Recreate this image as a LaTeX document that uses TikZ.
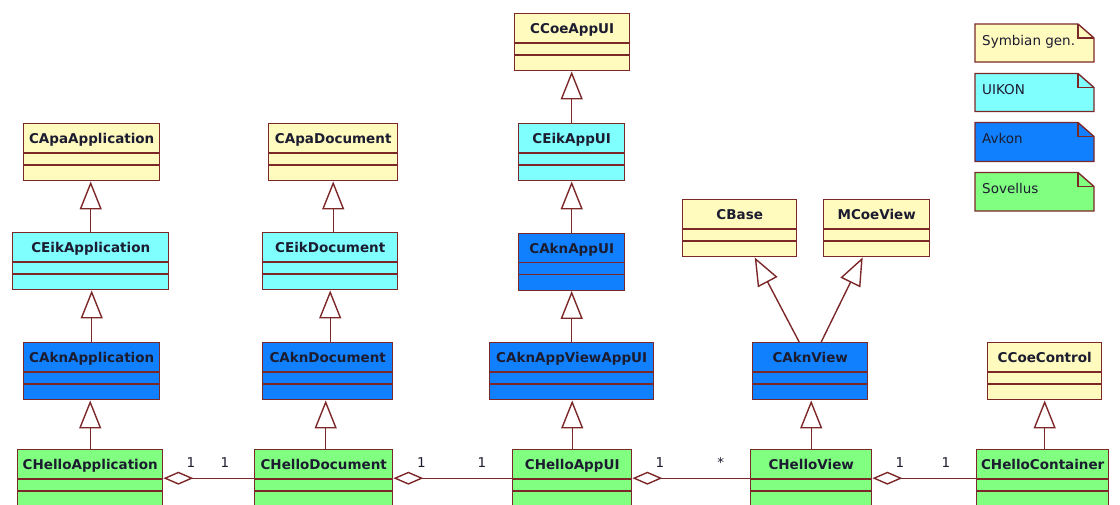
\documentclass[tikz,border=0pt]{standalone}
\usepackage{fontspec}
\setmainfont{DejaVu Sans}
\usetikzlibrary{arrows.meta,calc}
\definecolor{bord}{RGB}{125,40,40}
\definecolor{yel}{RGB}{255,250,190}
\definecolor{cya}{RGB}{128,255,255}
\definecolor{blu}{RGB}{16,128,255}
\definecolor{grn}{RGB}{128,255,128}
\definecolor{txt}{RGB}{28,28,48}
\tikzset{
  clsbox/.style={draw=bord, line width=1.4pt, rectangle, inner sep=0pt, minimum height=57pt},
  clsname/.style={inner sep=0pt, text=txt, font=\fontsize{13.5}{16}\selectfont\bfseries},
  sepline/.style={draw=bord, line width=1.4pt},
  inherit/.style={draw=bord, line width=1.4pt, -{Triangle[open, length=28pt, width=22pt]}},
  assoc/.style={draw=bord, line width=1.4pt, {Diamond[open, length=30pt, width=13pt]}-},
  mult/.style={inner sep=0pt, text=txt, font=\fontsize{13.5}{15}\selectfont},
  notebox/.style={draw=bord, line width=1.4pt},
  notetext/.style={inner sep=0pt, text=txt, font=\fontsize{13.5}{15}\selectfont},
}
\newcommand{\umlclass}[6]{%
  \node[clsbox, fill=#5, minimum width=#4pt, anchor=north west] (#1) at (#2,#3) {};
  \node[clsname, anchor=base] (#1-n) at ($(#1.north)+(0,20.5)$) {#6};
  \draw[sepline] ($(#1.north west)+(0,30)$) -- ($(#1.north east)+(0,30)$);
  \draw[sepline] ($(#1.north west)+(0,42)$) -- ($(#1.north east)+(0,42)$);
}
\newcommand{\umlnote}[5]{%
  \draw[notebox, fill=#4] (975,#2) -- (1078,#2) -- (1094,{#2+14}) -- (1094,#3) -- (975,#3) -- cycle;
  \draw[notebox] (1078,#2) -- (1078,{#2+14}) -- (1094,{#2+14});
  \node[notetext, anchor=base west] (#1) at (982,{#2+21}) {#5};
}
\begin{document}
\begin{tikzpicture}[x=1pt, y=-1pt]
\clip (0,0) rectangle (1120,504);
\fill[white] (0,0) rectangle (1120,504);
% classes
\umlclass{ccoeappui}{514}{13}{115}{yel}{CCoeAppUI}
\umlclass{capaapp}{23}{123}{136}{yel}{CApaApplication}
\umlclass{capadoc}{268}{123}{129}{yel}{CApaDocument}
\umlclass{ceikappui}{518}{123}{106}{cya}{CEikAppUI}
\umlclass{cbase}{682}{199}{114}{yel}{CBase}
\umlclass{mcoeview}{823}{199}{106}{yel}{MCoeView}
\umlclass{ceikapp}{12}{232}{156}{cya}{CEikApplication}
\umlclass{ceikdoc}{262}{232}{135}{cya}{CEikDocument}
\umlclass{caknappui}{518}{232.5}{106}{blu}{CAknAppUI}
\umlclass{caknapp}{23}{342}{136}{blu}{CAknApplication}
\umlclass{cakndoc}{262}{342}{130}{blu}{CAknDocument}
\umlclass{caknavappui}{489}{342}{164}{blu}{CAknAppViewAppUI}
\umlclass{caknview}{752}{342}{115}{blu}{CAknView}
\umlclass{ccoecontrol}{987}{342}{114}{yel}{CCoeControl}
\umlclass{happ}{17}{449}{145}{grn}{CHelloApplication}
\umlclass{hdoc}{254}{449}{138}{grn}{CHelloDocument}
\umlclass{happui}{512}{449}{119}{grn}{CHelloAppUI}
\umlclass{hview}{750}{449}{121}{grn}{CHelloView}
\umlclass{hcont}{976}{449}{132}{grn}{CHelloContainer}
% inheritance
\draw[inherit] (ceikapp.north) -- (ceikapp.north |- capaapp.south);
\draw[inherit] (caknapp.north) -- (caknapp.north |- ceikapp.south);
\draw[inherit] (happ.north) -- (happ.north |- caknapp.south);
\draw[inherit] (capadoc.south |- ceikdoc.north) -- (capadoc.south);
\draw[inherit] (ceikdoc.south |- cakndoc.north) -- (ceikdoc.south);
\draw[inherit] ([xshift=-2pt]cakndoc.south |- hdoc.north) -- ([xshift=-2pt]cakndoc.south);
\draw[inherit] (ceikappui.north) -- (ceikappui.north |- ccoeappui.south);
\draw[inherit] (caknappui.north) -- (caknappui.north |- ceikappui.south);
\draw[inherit] (caknavappui.north) -- (caknavappui.north |- caknappui.south);
\draw[inherit] (happui.north) -- (happui.north |- caknavappui.south);
\draw[inherit] (hview.north) -- (hview.north |- caknview.south);
\draw[inherit] (ccoecontrol.south |- hcont.north) -- (ccoecontrol.south);
\draw[inherit] ([xshift=-11pt]caknview.north) -- ([xshift=15pt]cbase.south);
\draw[inherit] ([xshift=11pt]caknview.north) -- ([xshift=-14pt]mcoeview.south);
% associations
\draw[assoc] (happ.east) -- (hdoc.west);
\draw[assoc] (hdoc.east) -- (happui.west);
\draw[assoc] (happui.east) -- (hview.west);
\draw[assoc] (hview.east) -- (hcont.west);
\node[mult] (m1) at (191,463) {1};
\node[mult] (m2) at (225,463) {1};
\node[mult] (m3) at (421.5,463) {1};
\node[mult] (m4) at (482,463) {1};
\node[mult] (m5) at (660,463) {1};
\node[mult, anchor=base] (m6) at (720.7,467) {*};
\node[mult] (m7) at (900,463) {1};
\node[mult] (m8) at (946,463) {1};
% legend notes
\umlnote{n1}{24}{62}{yel}{Symbian gen.}
\umlnote{n2}{73.5}{111.5}{cya}{UIKON}
\umlnote{n3}{122.5}{161.5}{blu}{Avkon}
\umlnote{n4}{172.5}{211}{grn}{Sovellus}
\end{tikzpicture}
\end{document}
